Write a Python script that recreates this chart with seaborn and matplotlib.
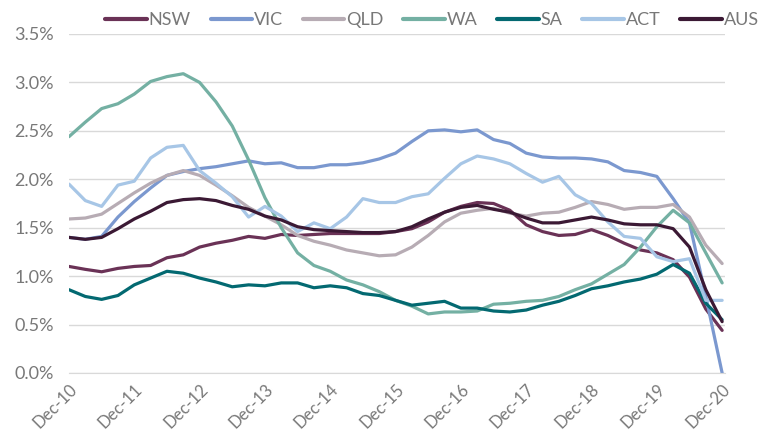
import pandas as pd
import matplotlib.pyplot as plt
import matplotlib.ticker as mtick
import seaborn as sns

# quarterly, Dec-10 .. Dec-20
quarters = pd.period_range("2010Q4", "2020Q4", freq="Q")
tick_labels = ["Dec-10", "Dec-11", "Dec-12", "Dec-13", "Dec-14", "Dec-15",
               "Dec-16", "Dec-17", "Dec-18", "Dec-19", "Dec-20"]

nsw = [1.10, 1.07, 1.045, 1.08, 1.10, 1.11, 1.19, 1.22, 1.30, 1.34, 1.37, 1.41, 1.39, 1.43,
       1.42, 1.43, 1.44, 1.44, 1.44, 1.44, 1.46, 1.49, 1.56, 1.66, 1.72, 1.76, 1.75, 1.68,
       1.53, 1.46, 1.42, 1.43, 1.48, 1.42, 1.34, 1.27, 1.24, 1.17, 0.99, 0.66, 0.44]
vic = [1.40, 1.38, 1.41, 1.61, 1.77, 1.91, 2.04, 2.08, 2.11, 2.13, 2.16, 2.19, 2.16, 2.17,
       2.12, 2.12, 2.15, 2.15, 2.17, 2.21, 2.27, 2.39, 2.50, 2.51, 2.49, 2.51, 2.41, 2.37,
       2.27, 2.23, 2.22, 2.22, 2.21, 2.18, 2.09, 2.07, 2.03, 1.80, 1.55, 0.79, 0.0]
qld = [1.59, 1.60, 1.64, 1.75, 1.86, 1.96, 2.04, 2.09, 2.04, 1.94, 1.83, 1.71, 1.62, 1.53,
       1.42, 1.36, 1.32, 1.27, 1.24, 1.21, 1.22, 1.30, 1.42, 1.56, 1.65, 1.68, 1.70, 1.65,
       1.62, 1.65, 1.66, 1.71, 1.77, 1.74, 1.69, 1.71, 1.71, 1.74, 1.61, 1.32, 1.13]
wa = [2.44, 2.59, 2.73, 2.78, 2.88, 3.01, 3.06, 3.09, 3.00, 2.80, 2.55, 2.20, 1.81, 1.50,
      1.24, 1.11, 1.05, 0.96, 0.91, 0.84, 0.75, 0.69, 0.61, 0.63, 0.63, 0.64, 0.71, 0.72,
      0.74, 0.75, 0.79, 0.86, 0.92, 1.02, 1.12, 1.30, 1.51, 1.68, 1.55, 1.24, 0.93]
sa = [0.86, 0.79, 0.76, 0.80, 0.91, 0.98, 1.05, 1.03, 0.98, 0.94, 0.89, 0.91, 0.90, 0.93,
      0.93, 0.88, 0.90, 0.88, 0.82, 0.80, 0.75, 0.70, 0.72, 0.74, 0.67, 0.67, 0.64, 0.63,
      0.65, 0.70, 0.74, 0.80, 0.87, 0.90, 0.94, 0.97, 1.02, 1.12, 1.03, 0.72, 0.55]
act = [1.95, 1.78, 1.72, 1.94, 1.98, 2.22, 2.33, 2.35, 2.09, 1.96, 1.82, 1.61, 1.72, 1.62,
       1.46, 1.55, 1.49, 1.61, 1.80, 1.76, 1.76, 1.82, 1.85, 2.01, 2.16, 2.24, 2.21, 2.16,
       2.06, 1.97, 2.03, 1.84, 1.75, 1.56, 1.41, 1.39, 1.20, 1.15, 1.18, 0.75, 0.75]
aus = [1.40, 1.38, 1.40, 1.49, 1.59, 1.67, 1.76, 1.79, 1.80, 1.78, 1.73, 1.69, 1.62, 1.58,
       1.51, 1.48, 1.47, 1.46, 1.45, 1.45, 1.46, 1.51, 1.59, 1.66, 1.71, 1.73, 1.69, 1.66,
       1.60, 1.55, 1.55, 1.58, 1.61, 1.58, 1.54, 1.53, 1.53, 1.49, 1.30, 0.86, 0.53]

series = {"NSW": nsw, "VIC": vic, "QLD": qld, "WA": wa, "SA": sa, "ACT": act, "AUS": aus}
colours = {"NSW": "#6a3256", "VIC": "#7b98cf", "QLD": "#b7acb4", "WA": "#74b0a3",
           "SA": "#036971", "ACT": "#a7c6e6", "AUS": "#3b1934"}

rows = []
for name, vals in series.items():
    for i, v in enumerate(vals):
        rows.append({"q": i, "Region": name, "Rate": v / 100})
df = pd.DataFrame(rows)

sns.set_style("white")
plt.rcParams["font.family"] = ["Lato", "DejaVu Sans"]
grey = "#787878"

fig = plt.figure(figsize=(7.58, 4.32), dpi=100)
ax = fig.add_axes([0.091, 0.1366, 0.866, 0.7847])

sns.lineplot(data=df, x="q", y="Rate", hue="Region", palette=colours,
             hue_order=list(series.keys()), linewidth=2.3, ax=ax, legend=False)

ax.set_xlim(0, 40.2)
ax.set_ylim(0, 0.035)
ax.yaxis.set_major_locator(mtick.MultipleLocator(0.005))
ax.yaxis.set_major_formatter(mtick.PercentFormatter(1.0, decimals=1))
ax.grid(axis="y", color="#d9d9d9", linewidth=1)
ax.set_axisbelow(True)
ax.set_xticks(range(0, 41, 4))
ax.set_xticklabels(tick_labels, rotation=45, ha="right", rotation_mode="anchor")
ax.set_xlabel("")
ax.set_ylabel("")
for s in ["top", "right", "left"]:
    ax.spines[s].set_visible(False)
ax.spines["bottom"].set_color("#d9d9d9")
ax.tick_params(axis="x", colors=grey, labelsize=12, length=5, width=1, color="#d9d9d9", pad=1)
ax.tick_params(axis="y", colors=grey, labelsize=13, length=0, pad=11)
for lbl in ax.get_xticklabels() + ax.get_yticklabels():
    lbl.set_color(grey)

handles = [plt.Line2D([], [], color=colours[n], linewidth=3, solid_capstyle="round") for n in series]
fig.legend(handles, list(series.keys()), loc="upper center", bbox_to_anchor=(0.57, 1.01),
           ncol=7, frameon=False, handlelength=2.3, handletextpad=0.1,
           columnspacing=1.1, labelcolor=grey, prop={"size": 13})

plt.savefig("out.png", dpi=100)
